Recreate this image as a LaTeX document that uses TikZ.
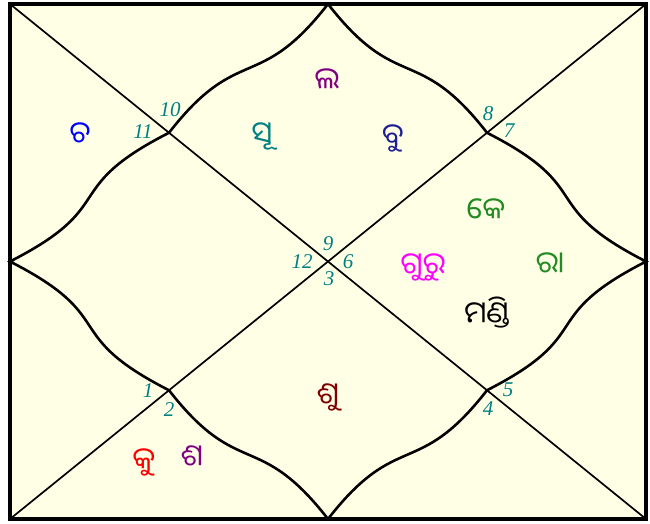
\documentclass[tikz,border=0pt]{standalone}
\usepackage{fontspec}
\setmainfont{Liberation Serif}
\newfontfamily\oriya[Script=Oriya]{Noto Sans Oriya UI}

\begin{document}
\begin{tikzpicture}[
    x=1pt, y=-1pt,
    num/.style={text=sea, font=\fontsize{21}{21}\selectfont\itshape, inner sep=0pt},
    graha/.style={font=\oriya\fontsize{30}{30}\selectfont, inner sep=0pt},
    house/.style={line width=2.6pt},
    diag/.style={line width=1.7pt}
]

% Colors
\definecolor{paper}{RGB}{255, 255, 230} % chart background
\definecolor{sea}{RGB}{0, 128, 128} % house numbers
\definecolor{navy}{RGB}{30, 30, 150}
\definecolor{leaf}{RGB}{34, 139, 34}
\definecolor{wine}{RGB}{128, 0, 0}
\definecolor{plum}{RGB}{128, 0, 128}
\definecolor{fuchsia}{RGB}{255, 0, 255}
\definecolor{scarlet}{RGB}{255, 0, 0}
\definecolor{azure}{RGB}{0, 0, 255}

\useasboundingbox (0,0) rectangle (650,523);
\fill[white] (0,0) rectangle (650,523);

% Frame
\coordinate (tl) at (10,4);
\coordinate (tr) at (646,4);
\coordinate (bl) at (10,519);
\coordinate (br) at (646,519);
\coordinate (top) at (328,4);
\coordinate (left) at (10,261.5);
\coordinate (right) at (646,261.5);
\coordinate (bottom) at (328,519);
\coordinate (a) at (169,132.75);
\coordinate (b) at (487,132.75);
\coordinate (c) at (169,390.25);
\coordinate (d) at (487,390.25);

\draw[fill=paper, line width=3.2pt] (tl) rectangle (br);
\draw[diag] (tl) -- (br);
\draw[diag] (tr) -- (bl);

% Houses
\draw[house] (top) .. controls (258,94) and (239,42.75) .. (a)
    .. controls (58,189.35) and (121,204.9) .. (left)
    .. controls (121,318.1) and (58,333.6) .. (c)
    .. controls (239,480.25) and (258,429) .. (bottom)
    .. controls (398,429) and (417,480.25) .. (d)
    .. controls (598,333.6) and (535,318.1) .. (right)
    .. controls (535,204.9) and (598,189.35) .. (b)
    .. controls (417,42.75) and (398,94) .. (top);

% House numbers
\node (h1) [num] at (148,391) {1};
\node (h2) [num] at (169,410) {2};
\node (h3) [num] at (329,279) {3};
\node (h4) [num] at (488,409) {4};
\node (h5) [num] at (508,390) {5};
\node (h6) [num] at (348,262) {6};
\node (h7) [num] at (509,131) {7};
\node (h8) [num] at (488,114) {8};
\node (h9) [num] at (328,244) {9};
\node (h10) [num] at (170,110) {10};
\node (h11) [num] at (143,132) {11};
\node (h12) [num] at (302,262) {12};

% Planets
\node (lagna) [graha, text=plum] at (327,80) {ଲ};
\node (surya) [graha, text=sea] at (262,136) {ସୂ};
\node (budha) [graha, text=navy] at (393,138) {ବୁ};
\node (chandra) [graha, text=azure] at (80,134) {ଚ};
\node (ketu) [graha, text=leaf] at (486,210) {କେ};
\node (guru) [graha, text=fuchsia] at (423,267) {ଗୁରୁ};
\node (rahu) [graha, text=leaf] at (550,264) {ରା};
\node (mandi) [graha, text=black] at (487,313) {ମଣ୍ଡି};
\node (shukra) [graha, text=wine] at (328,397) {ଶୁ};
\node (kuja) [graha, text=scarlet] at (144,462) {କୁ};
\node (shani) [graha, text=plum] at (192,457) {ଶ};

\end{tikzpicture}
\end{document}
